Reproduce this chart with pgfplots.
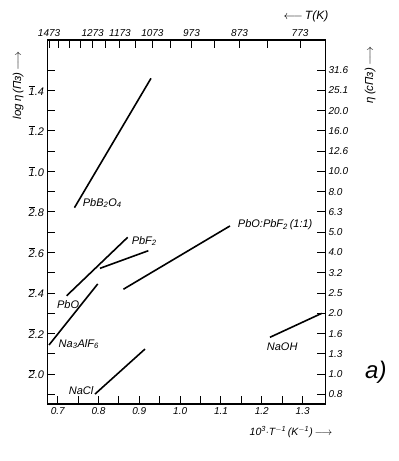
\documentclass[border=0pt]{standalone}
\usepackage{pgfplots}
\pgfplotsset{compat=1.18}
\usepackage{fontspec}
\setmainfont{Liberation Sans}
\newcommand{\bd}[1]{$\overline{\mbox{#1}}$}
\begin{document}
\begin{tikzpicture}
\pgfplotsset{common/.style={
  scale only axis, width=277.6pt, height=364pt,
  xmin=0.675, xmax=1.355, ymin=-2.147, ymax=-0.352,
  axis line style={line width=1.1pt},
  tick align=inside,
  major tick length=8pt, minor tick length=8pt,
  tick style={line width=1pt, black},
}}
\begin{axis}[common,
  xtick pos=bottom, ytick pos=left,
  xtick={0.7,0.8,0.9,1.0,1.1,1.2,1.3},
  xticklabels={0.7,0.8,0.9,1.0,1.1,1.2,1.3},
  minor xtick={0.75,0.85,0.95,1.05,1.15,1.25},
  ytick={-2,-1.8,-1.6,-1.4,-1.2,-1,-0.8,-0.6},
  yticklabels={\bd{2}.0,\bd{2}.2,\bd{2}.4,\bd{2}.6,\bd{2}.8,\bd{1}.0,\bd{1}.2,\bd{1}.4},
  minor ytick={-2.1,-1.9,-1.7,-1.5,-1.3,-1.1,-0.9,-0.7,-0.5},
  xticklabel style={font=\itshape\fontsize{10}{10}\selectfont},
  yticklabel style={font=\itshape\fontsize{11}{11}\selectfont},
  clip=false,
]
\addplot[black, line width=1.6pt, mark=none] coordinates {(0.741,-1.179) (0.9285,-0.541)};
\addplot[black, line width=1.6pt, mark=none] coordinates {(0.722,-1.613) (0.8714,-1.325)};
\addplot[black, line width=1.6pt, mark=none] coordinates {(0.8036,-1.478) (0.9221,-1.391)};
\addplot[black, line width=1.6pt, mark=none] coordinates {(0.6787,-1.856) (0.798,-1.555)};
\addplot[black, line width=1.6pt, mark=none] coordinates {(0.861,-1.581) (1.122,-1.269)};
\addplot[black, line width=1.6pt, mark=none] coordinates {(0.7914,-2.098) (0.9138,-1.876)};
\addplot[black, line width=1.6pt, mark=none] coordinates {(1.22,-1.818) (1.3466,-1.70)};
\begin{scope}[every node/.style={font=\itshape\fontsize{11}{11}\selectfont, anchor=west, inner sep=0pt}]
\node at (axis cs:0.761,-1.156) {PbB\textsubscript{2}O\textsubscript{4}};
\node at (axis cs:0.881,-1.343) {PbF\textsubscript{2}};
\node at (axis cs:0.698,-1.659) {PbO};
\node at (axis cs:0.702,-1.851) {Na\textsubscript{3}AlF\textsubscript{6}};
\node at (axis cs:1.141,-1.264) {PbO:PbF\textsubscript{2}\,(1:1)};
\node at (axis cs:1.212,-1.864) {NaOH};
\node at (axis cs:0.727,-2.081) {NaCl};
\end{scope}
\node[font=\itshape\fontsize{10.5}{10.5}\selectfont] at (rel axis cs:0.877,-0.077) {10\textsuperscript{3}$\cdot$T\textsuperscript{$-$1}\,(K\textsuperscript{$-$1})\,$\longrightarrow$};
\node[font=\itshape\fontsize{12}{12}\selectfont] at (rel axis cs:0.931,1.066) {$\longleftarrow$\,T(K)};
\node[font=\itshape\fontsize{11.5}{11.5}\selectfont, rotate=90] at (rel axis cs:-0.106,0.876) {log\,η\,(Пз)\,$\longrightarrow$};
\node[font=\itshape\fontsize{11.5}{11.5}\selectfont, rotate=90] at (rel axis cs:1.162,0.904) {η\,(сПз)\,$\longrightarrow$};
\node[font=\itshape\fontsize{24}{24}\selectfont] at (rel axis cs:1.183,0.088) {a)};
\end{axis}
\begin{axis}[common,
  axis x line*=top, axis y line*=right,
  xtick={0.67889,0.70274,0.72833,0.75586,0.78555,0.81766,0.85251,0.89047,0.93197,0.97752,1.02775,1.08342,1.14548,1.21507,1.29366},
  xticklabels={1473,,,,1273,,1173,,1073,,973,,873,,773},
  ytick={-2.1,-2.0,-1.9,-1.8,-1.7,-1.6,-1.5,-1.4,-1.3,-1.2,-1.1,-1.0,-0.9,-0.8,-0.7,-0.6,-0.5},
  yticklabels={0.8,1.0,1.3,1.6,2.0,2.5,3.2,4.0,5.0,6.3,8.0,10.0,12.6,16.0,20.0,25.1,31.6},
  xticklabel style={font=\itshape\fontsize{10}{10}\selectfont},
  yticklabel style={font=\itshape\fontsize{10}{10}\selectfont},
]
\end{axis}
\pgfresetboundingbox
\path (-47.5pt,-57pt) rectangle (351.5pt,404pt);
\end{tikzpicture}
\end{document}
